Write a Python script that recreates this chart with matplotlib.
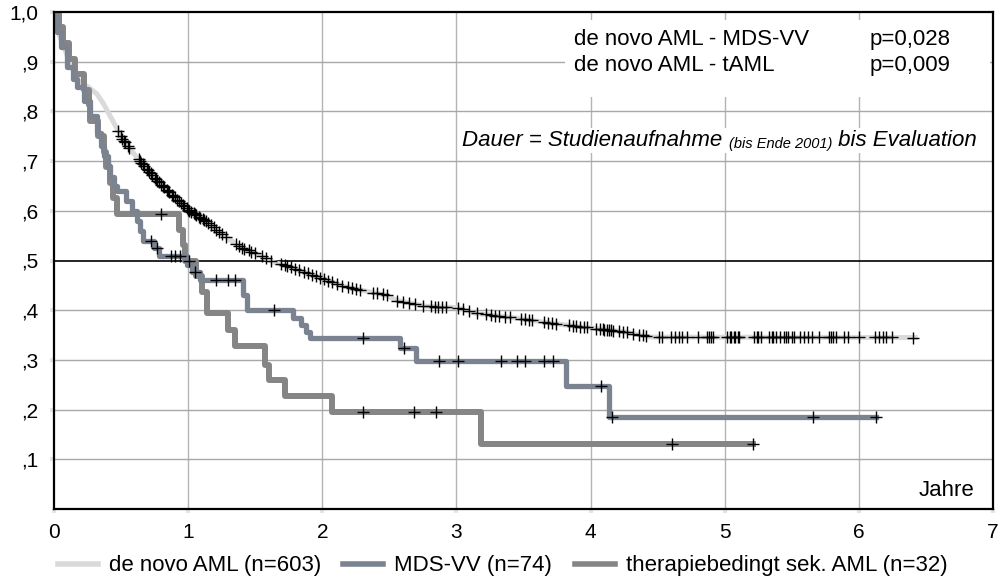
import numpy as np
import matplotlib
matplotlib.use("Agg")
import matplotlib.pyplot as plt
from matplotlib.lines import Line2D
from matplotlib.patches import Rectangle

plt.rcParams['font.family'] = ['Liberation Sans', 'DejaVu Sans']

# ---------------- data ----------------
series_labels = ["de novo AML (n=603)", "MDS-VV (n=74)", "therapiebedingt sek. AML (n=32)"]

# de novo AML: survival curve read at knots (very many small steps)
denovo_t = [0.0, 0.03, 0.08, 0.13, 0.19, 0.25, 0.32, 0.37, 0.44, 0.51, 0.58, 0.64, 0.77,
            0.87, 1.01, 1.14, 1.24, 1.39, 1.54, 1.63, 1.76, 1.96, 2.20, 2.48, 2.55, 2.77,
            3.01, 3.14, 3.45, 3.70, 4.01, 4.26, 4.45, 6.42]
denovo_s = [1.0, 0.96, 0.925, 0.89, 0.86, 0.85, 0.835, 0.815, 0.78, 0.745, 0.72, 0.70, 0.66,
            0.635, 0.60, 0.578, 0.555, 0.527, 0.51, 0.497, 0.487, 0.467, 0.445, 0.43, 0.42, 0.408,
            0.405, 0.394, 0.384, 0.374, 0.364, 0.356, 0.346, 0.345]
denovo_cens = [0.48, 0.50, 0.51, 0.52, 0.53, 0.55, 0.56,
               0.63, 0.64, 0.65, 0.66, 0.67, 0.69, 0.70, 0.71, 0.72, 0.73, 0.75, 0.76, 0.77, 0.78,
               0.80, 0.81, 0.82, 0.84, 0.85, 0.86, 0.88, 0.89, 0.90, 0.92, 0.93, 0.95, 0.96, 0.97,
               0.99, 1.00, 1.01, 1.02, 1.04, 1.05, 1.06, 1.08, 1.09, 1.11, 1.12, 1.13, 1.15, 1.17,
               1.19, 1.21, 1.23, 1.25, 1.28,
               1.36, 1.38, 1.40, 1.42, 1.45, 1.47, 1.50, 1.55, 1.58, 1.62,
               1.69, 1.72, 1.74, 1.77, 1.80, 1.83, 1.86, 1.89, 1.92, 1.95, 1.98, 2.01, 2.04, 2.07,
               2.11, 2.15, 2.19, 2.22, 2.25, 2.28,
               2.38, 2.41, 2.45, 2.48, 2.56, 2.60, 2.65, 2.69, 2.75, 2.81, 2.84, 2.86, 2.89, 2.92,
               3.01, 3.05, 3.09, 3.15, 3.22, 3.26, 3.29, 3.32, 3.36, 3.40, 3.48, 3.51, 3.54, 3.56,
               3.65, 3.68, 3.71, 3.74, 3.84, 3.87, 3.89, 3.92, 3.95, 3.97,
               4.04, 4.07, 4.09, 4.10, 4.12, 4.14, 4.15, 4.17, 4.21, 4.24, 4.27, 4.32, 4.36, 4.39, 4.41,
               4.51, 4.53, 4.60, 4.63, 4.66, 4.68, 4.72, 4.80, 4.87, 4.88, 4.90, 4.91, 5.02, 5.04,
               5.05, 5.07, 5.08, 5.10, 5.11, 5.22, 5.24, 5.25, 5.27, 5.33, 5.35, 5.36, 5.38, 5.41,
               5.44, 5.46, 5.47, 5.50, 5.52, 5.56, 5.59, 5.62, 5.65, 5.70, 5.78, 5.79, 5.81, 5.83,
               5.89, 5.92, 6.00, 6.12, 6.15, 6.18, 6.20, 6.25, 6.40]

# MDS-VV: step times and survival after each step
mds_t = [0.0, 0.02, 0.05, 0.10, 0.14, 0.17, 0.22, 0.27, 0.32, 0.35, 0.37, 0.40, 0.42, 0.45,
         0.47, 0.54, 0.58, 0.62, 0.64, 0.66, 0.745, 0.78, 0.99, 1.03, 1.09, 1.41, 1.44,
         1.78, 1.84, 1.88, 1.91, 2.58, 2.70, 3.82, 4.14]
mds_s = [1.0, 0.96, 0.93, 0.89, 0.865, 0.85, 0.82, 0.79, 0.756, 0.73, 0.71, 0.69, 0.668, 0.65,
         0.64, 0.62, 0.60, 0.58, 0.56, 0.54, 0.525, 0.51, 0.49, 0.477, 0.46, 0.43, 0.40,
         0.385, 0.37, 0.357, 0.344, 0.324, 0.297, 0.247, 0.186]
mds_cens = [0.72, 0.77, 0.87, 0.90, 0.94, 1.05, 1.21, 1.30, 1.35, 1.64, 2.30, 2.61, 2.87,
            3.01, 3.33, 3.45, 3.51, 3.65, 3.72, 4.08, 4.16, 5.66, 6.13]

# therapy-related AML
taml_t = [0.0, 0.04, 0.07, 0.11, 0.16, 0.22, 0.26, 0.27, 0.33, 0.37, 0.39, 0.42, 0.44, 0.47,
          0.93, 0.96, 0.98, 1.06, 1.10, 1.14, 1.30, 1.35, 1.57, 1.60, 1.72, 2.07, 3.18]
taml_s = [1.0, 0.969, 0.938, 0.906, 0.875, 0.844, 0.812, 0.781, 0.75, 0.719, 0.688, 0.656,
          0.625, 0.594, 0.562, 0.531, 0.50, 0.468, 0.437, 0.394, 0.36, 0.328, 0.29, 0.26,
          0.227, 0.195, 0.13]
taml_cens = [0.80, 1.01, 2.30, 2.68, 2.85, 4.61, 5.21]

colors = ["#dadada", "#7b8391", "#858585"]
linewidths = [3.6, 3.8, 4.3]

x_ticks = [0, 1, 2, 3, 4, 5, 6, 7]
y_ticks = [0.1, 0.2, 0.3, 0.4, 0.5, 0.6, 0.7, 0.8, 0.9, 1.0]
y_ticklabels = [",1", ",2", ",3", ",4", ",5", ",6", ",7", ",8", ",9", "1,0"]

pvalue_rows = [("de novo AML - MDS-VV", "p=0,028"), ("de novo AML - tAML", "p=0,009")]


def step_value(times, surv, c):
    idx = np.searchsorted(times, c, side="right") - 1
    return np.asarray(surv)[idx]


# ---------------- figure ----------------
fig = plt.figure(figsize=(10.05, 5.81), dpi=100)
ax = fig.add_axes([54 / 1005, 1 - 509 / 581, (993 - 54) / 1005, (509 - 12) / 581])
ax.set_xlim(0, 7)
ax.set_ylim(0, 1.0)

# grid
for xv in x_ticks[1:-1]:
    ax.axvline(xv, color="#b4b4b4", lw=1.0, zorder=0)
for yv in y_ticks[:-1]:
    if abs(yv - 0.5) < 1e-9:
        ax.axhline(yv, color="black", lw=1.2, zorder=0.5)
    else:
        ax.axhline(yv, color="#a8a8a8", lw=1.0, zorder=0)

# white box behind p-values
ax.add_patch(Rectangle((3.81, 0.829), 3.17, 0.155, facecolor="white", edgecolor="none", zorder=0.8))

# curves
ax.plot(denovo_t, denovo_s, color=colors[0], lw=linewidths[0], solid_joinstyle="round", zorder=2)
ax.step(mds_t + [mds_cens[-1]], mds_s + [mds_s[-1]], where="post",
        color=colors[1], lw=linewidths[1], zorder=3)
ax.step(taml_t + [taml_cens[-1]], taml_s + [taml_s[-1]], where="post",
        color=colors[2], lw=linewidths[2], zorder=2.5)

# censor marks
mk = dict(marker="+", color="black", ms=8, mew=1.0, ls="none", zorder=5)
ax.plot(denovo_cens, np.interp(denovo_cens, denovo_t, denovo_s), **mk)
ax.plot(mds_cens, step_value(mds_t, mds_s, mds_cens), **mk)
ax.plot(taml_cens, step_value(taml_t, taml_s, taml_cens), **mk)

# axes styling
for sp in ax.spines.values():
    sp.set_linewidth(1.6)
    sp.set_color("black")
    sp.set_zorder(6)
ax.set_xticks(x_ticks)
ax.set_xticklabels([str(v) for v in x_ticks])
ax.set_yticks(y_ticks)
ax.set_yticklabels(y_ticklabels)
ax.tick_params(axis="both", length=3, width=3, color="#e6e6e6", labelsize=15)
ax.tick_params(axis="y", pad=8.5)
ax.tick_params(axis="x", pad=7)

# annotations
ax.text(3.88, 0.933, pvalue_rows[0][0], fontsize=16, ha="left", va="baseline", zorder=7)
ax.text(6.08, 0.933, pvalue_rows[0][1], fontsize=16, ha="left", va="baseline", zorder=7)
ax.text(3.88, 0.881, pvalue_rows[1][0], fontsize=16, ha="left", va="baseline", zorder=7)
ax.text(6.08, 0.881, pvalue_rows[1][1], fontsize=16, ha="left", va="baseline", zorder=7)

bb = dict(facecolor="white", edgecolor="none", pad=1.5)
t3 = ax.text(6.88, 0.742, " bis Evaluation", fontsize=16, style="italic", ha="right",
             va="center", bbox=bb, zorder=7.1)
t2 = ax.annotate("(bis Ende 2001)", xy=(0, 0), xycoords=t3, fontsize=10.5, style="italic",
                 ha="right", va="bottom", bbox=bb, zorder=7.2)
fig.canvas.draw()
r = fig.canvas.get_renderer()
w2 = t2.get_window_extent(r).width
t1 = ax.annotate("Dauer = Studienaufnahme ", xy=(0, 0), xycoords=t3, xytext=(-w2, 0),
                 textcoords="offset pixels", fontsize=16, style="italic",
                 ha="right", va="bottom", bbox=bb, zorder=7.0)

ax.text(6.86, 0.037, "Jahre", fontsize=16, ha="right", va="center", zorder=7)

handles = [Line2D([], [], color=c, lw=4) for c in colors]
fig.legend(handles, series_labels, loc="center", bbox_to_anchor=(0.5, 1 - 566 / 581),
           ncol=3, frameon=False, fontsize=16, handlelength=1.8, handletextpad=0.5,
           columnspacing=1.0)

fig.savefig("out.png", dpi=100)
